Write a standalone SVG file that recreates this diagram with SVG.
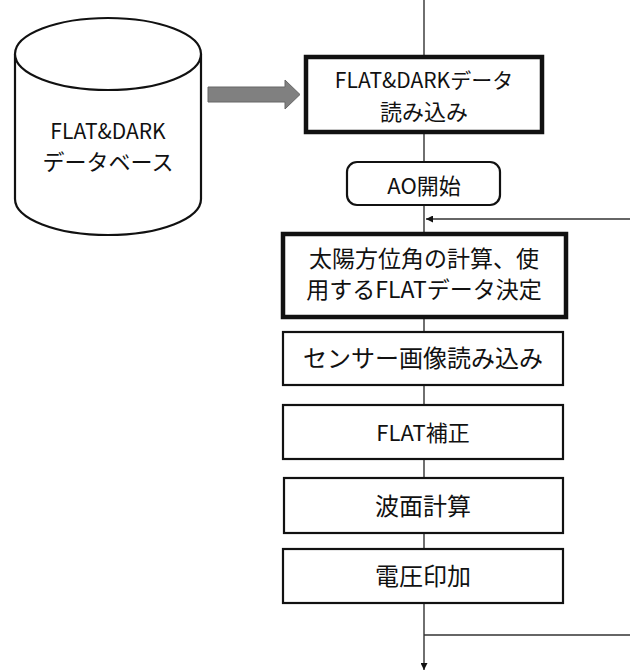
<svg xmlns="http://www.w3.org/2000/svg" width="630" height="672" viewBox="0 0 630 672">
  <style>
    .t { font-family: "Noto Sans CJK JP", "Noto Sans", sans-serif; fill: #111; text-anchor: middle; }
    .box { fill: #fff; stroke: #111; stroke-width: 2.2; }
    .thick { fill: #fff; stroke: #111; stroke-width: 4.5; }
    .line { fill: none; stroke: #333; stroke-width: 1.4; }
  </style>
  <defs>
    <marker id="ah" viewBox="0 0 10 10" refX="10" refY="5" markerWidth="7" markerHeight="7" markerUnits="userSpaceOnUse" orient="auto">
      <path d="M0,0 L10,5 L0,10 Z" fill="#111"/>
    </marker>
  </defs>
  <rect width="630" height="672" fill="#fff"/>

  <!-- connectors -->
  <g id="connectors">
    <line class="line" x1="424" y1="0" x2="424" y2="670" marker-end="url(#ah)"/>
    <line class="line" x1="630" y1="219" x2="426" y2="219" marker-end="url(#ah)"/>
    <line class="line" x1="424" y1="635" x2="630" y2="635"/>
    <!-- block arrow from database to loader -->
    <path d="M208,87 L285,87 L285,80 L300,94.5 L285,109 L285,102 L208,102 Z" fill="#808080" stroke="#666" stroke-width="1"/>
  </g>

  <g id="database">
    <path d="M15,54 L15,199 A93,36 0 0 0 201,199 L201,54" fill="#fff" stroke="#111" stroke-width="2.2"/>
    <ellipse cx="108" cy="54" rx="93" ry="36" fill="#fff" stroke="#111" stroke-width="2.2"/>
    <text class="t" x="108" y="139" font-size="21">FLAT&amp;DARK</text>
    <text class="t" x="108" y="170" font-size="22">データベース</text>
  </g>

  <g id="load-flat-dark">
    <rect class="thick" x="306" y="57" width="236" height="75"/>
    <text class="t" x="424" y="88" font-size="21">FLAT&amp;DARKデータ</text>
    <text class="t" x="424" y="120" font-size="22">読み込み</text>
  </g>

  <g id="ao-start">
    <rect class="box" x="347" y="162" width="153" height="43" rx="10"/>
    <text class="t" x="424" y="194" font-size="22">AO開始</text>
  </g>

  <g id="sun-azimuth">
    <rect class="thick" x="283" y="234" width="283" height="83"/>
    <text class="t" x="424" y="267" font-size="23">太陽方位角の計算、使</text>
    <text class="t" x="424" y="298" font-size="23">用するFLATデータ決定</text>
  </g>

  <g id="sensor-read">
    <rect class="box" x="283" y="332" width="280" height="53"/>
    <text class="t" x="423" y="367" font-size="24">センサー画像読み込み</text>
  </g>

  <g id="flat-correction">
    <rect class="box" x="283" y="405" width="280" height="54"/>
    <text class="t" x="423" y="441" font-size="22">FLAT補正</text>
  </g>

  <g id="wavefront">
    <rect class="box" x="284" y="478" width="279" height="55"/>
    <text class="t" x="423" y="515" font-size="24">波面計算</text>
  </g>

  <g id="voltage">
    <rect class="box" x="283" y="549" width="280" height="54"/>
    <text class="t" x="423" y="585" font-size="24">電圧印加</text>
  </g>
</svg>
